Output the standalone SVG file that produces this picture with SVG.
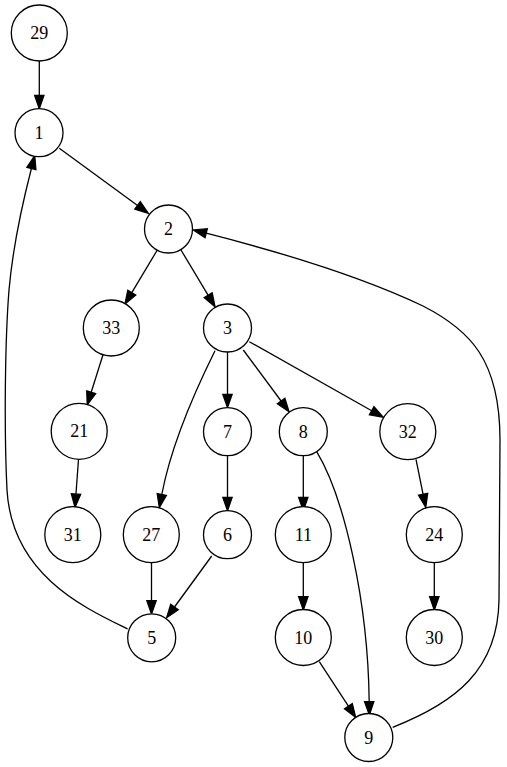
<svg xmlns="http://www.w3.org/2000/svg" width="507" height="767" viewBox="0 0 507 767">
<style>
.n circle{fill:#fff;stroke:#000;stroke-width:1.3}
.n text{font-family:"Liberation Serif","Times New Roman",serif;font-size:18px;text-anchor:middle;fill:#000}
.e path{fill:none;stroke:#000;stroke-width:1.3}
</style>
<defs>
<marker id="ah" markerUnits="userSpaceOnUse" markerWidth="16" markerHeight="12" refX="0" refY="0" viewBox="0 -6 16 12" orient="auto" overflow="visible">
<path d="M0,-4.67 L13.3,0 L0,4.67 Z" fill="#000" stroke="#000" stroke-width="1.3"/>
</marker>
</defs>
<rect width="507" height="767" fill="#fff"/>
<g id="edges" class="e">
<path marker-end="url(#ah)" d="M39.3,61 L39.3,95.4"/>
<path marker-end="url(#ah)" d="M59.3,148.3 L137.55,205.45"/>
<path marker-end="url(#ah)" d="M157,250.5 L131.8,292.6"/>
<path marker-end="url(#ah)" d="M181,250 L208.2,295.3"/>
<path marker-end="url(#ah)" d="M103,354.7 L91.2,392.3"/>
<path marker-end="url(#ah)" d="M227.5,352 L227.5,394.3"/>
<path marker-end="url(#ah)" d="M243.3,350 L281.1,401"/>
<path marker-end="url(#ah)" d="M249.3,341.7 L371.7,410.8"/>
<path marker-end="url(#ah)" d="M215,350.7 C198,385 172,440 161.8,494.5"/>
<path marker-end="url(#ah)" d="M78.5,459.3 L75.97,494.04"/>
<path marker-end="url(#ah)" d="M227.5,456 L227.5,497.4"/>
<path marker-end="url(#ah)" d="M151.5,562.7 L151.5,600.7"/>
<path marker-end="url(#ah)" d="M211.7,556 L174.5,607"/>
<path marker-end="url(#ah)" d="M127.7,629 C85,608 12,575 7,490 C4,430 5,340 9,290 C13,245 22,205 31.4,168.5"/>
<path marker-end="url(#ah)" d="M303.3,456 L303.3,497.4"/>
<path marker-end="url(#ah)" d="M316.7,451.7 C344,497 368,600 369.2,701.7"/>
<path marker-end="url(#ah)" d="M303.3,562.7 L303.3,596.7"/>
<path marker-end="url(#ah)" d="M319.3,661.7 L348.4,706.2"/>
<path marker-end="url(#ah)" d="M416,459.3 L423.1,494.3"/>
<path marker-end="url(#ah)" d="M434.3,562.7 L434.3,596.7"/>
<path marker-end="url(#ah)" d="M392.7,727.3 C455,703 498,670 499,600 L500,440 C500,360 470,330 423,306 C360,276 280,252 206.2,233.2"/>
</g>
<g id="node29" class="n"><circle cx="39.3" cy="33" r="28"/><text x="39.3" y="39">29</text></g>
<g id="node1" class="n"><circle cx="39" cy="132.7" r="24"/><text x="39" y="138.7">1</text></g>
<g id="node2" class="n"><circle cx="168.5" cy="229" r="24"/><text x="168.5" y="235">2</text></g>
<g id="node33" class="n"><circle cx="111.3" cy="328" r="28"/><text x="111.3" y="334">33</text></g>
<g id="node3" class="n"><circle cx="227.5" cy="328" r="24"/><text x="227.5" y="334">3</text></g>
<g id="node21" class="n"><circle cx="79.2" cy="431.3" r="28"/><text x="79.2" y="437.3">21</text></g>
<g id="node7" class="n"><circle cx="227.5" cy="431.7" r="24"/><text x="227.5" y="437.7">7</text></g>
<g id="node8" class="n"><circle cx="303.3" cy="431.7" r="24"/><text x="303.3" y="437.7">8</text></g>
<g id="node32" class="n"><circle cx="407.8" cy="431.7" r="28"/><text x="407.8" y="437.7">32</text></g>
<g id="node31" class="n"><circle cx="72.8" cy="534.7" r="28"/><text x="72.8" y="540.7">31</text></g>
<g id="node27" class="n"><circle cx="151.3" cy="534.7" r="28"/><text x="151.3" y="540.7">27</text></g>
<g id="node6" class="n"><circle cx="227.5" cy="534.7" r="24"/><text x="227.5" y="540.7">6</text></g>
<g id="node11" class="n"><circle cx="303.3" cy="534.7" r="28"/><text x="303.3" y="540.7">11</text></g>
<g id="node24" class="n"><circle cx="434.3" cy="534.7" r="28"/><text x="434.3" y="540.7">24</text></g>
<g id="node5" class="n"><circle cx="151.7" cy="637.8" r="24"/><text x="151.7" y="643.8">5</text></g>
<g id="node10" class="n"><circle cx="303.3" cy="637.5" r="28"/><text x="303.3" y="643.5">10</text></g>
<g id="node30" class="n"><circle cx="434.3" cy="637.5" r="28"/><text x="434.3" y="643.5">30</text></g>
<g id="node9" class="n"><circle cx="368.8" cy="737.5" r="24"/><text x="368.8" y="743.5">9</text></g>
</svg>
